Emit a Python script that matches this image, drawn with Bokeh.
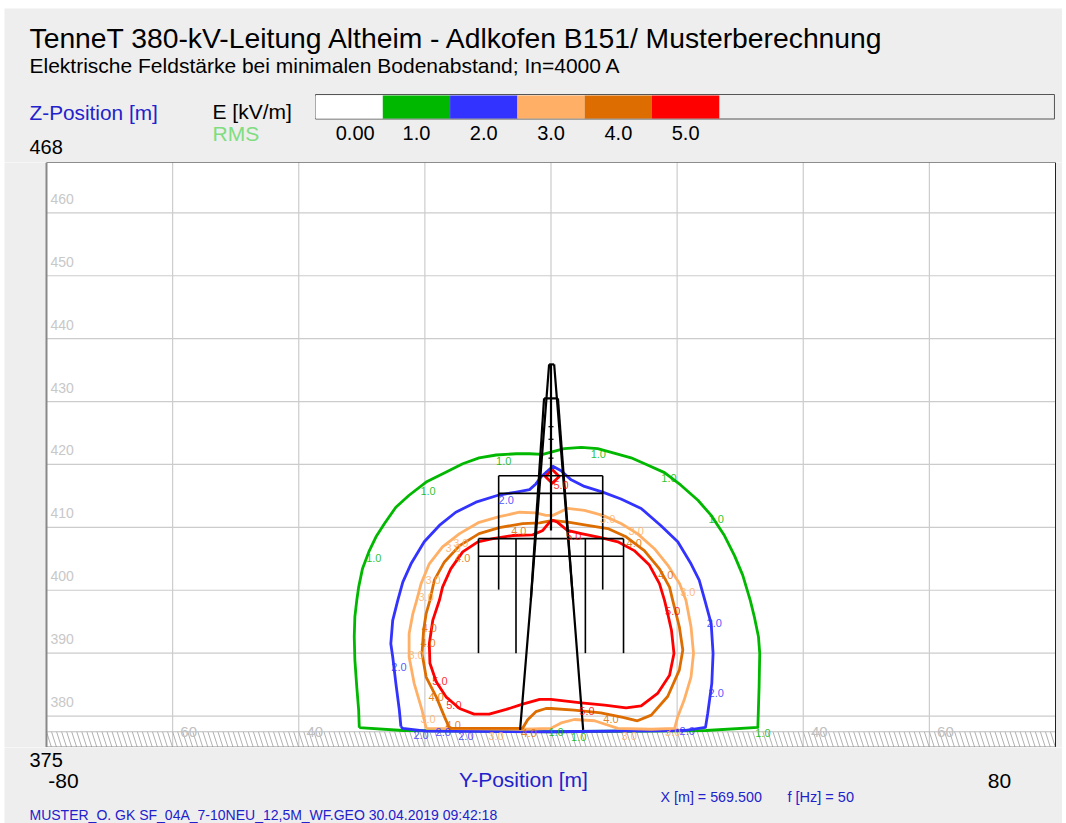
from bokeh.plotting import figure
from bokeh.layouts import column, row
from bokeh.models import Range1d, Label, Spacer
from bokeh.core.properties import value
from bokeh.embed import file_html
from bokeh.resources import INLINE
import numpy as np

TITLE = "TenneT 380-kV-Leitung Altheim - Adlkofen B151/ Musterberechnung"
SUBTITLE = "Elektrische Feldstärke bei minimalen Bodenabstand; In=4000 A"
FOOTER = "MUSTER_O. GK SF_04A_7-10NEU_12,5M_WF.GEO  30.04.2019  09:42:18"

legend_levels = [0, 1, 2, 3, 4, 5]
legend_labels = ["0.00", "1.0", "2.0", "3.0", "4.0", "5.0"]
legend_label_x = [0.59, 1.5, 2.5, 3.5, 4.5, 5.5]
legend_colors = ["#FFFFFF", "#00B800", "#3333FF", "#FFB066", "#DD6D00", "#FF0000"]

y_ticks = [-60, -40, -20, 0, 20, 40, 60]
z_ticks = [380, 390, 400, 410, 420, 430, 440, 450, 460]
y_label_ticks = [-60, -40, 40, 60]
y_label_text = ["60", "40", "40", "60"]

green_y = [-30.4, -30.5, -30.8, -31.1, -31.2, -31.1, -30.8, -30.5, -29.9, -28.8, -27.75, -26.4, -24.6, -22.5, -19.8, -16.6, -14.0, -11.4, -8.7, -5.5, -3.4, -1.3, 0.0, 2.1, 4.8, 7.4, 10.0, 12.7, 15.3, 18.0, 20.6, 23.3, 25.4, 27.5, 29.1, 30.4, 31.6, 32.25, 32.9, 33.1, 33.0, 32.8, 24.6, 0.0, -23.5, -30.4]
green_z = [378.15, 380.95, 384.65, 388.9, 392.6, 395.8, 398.4, 400.5, 403.4, 406.3, 408.5, 410.6, 413.2, 415.1, 417.2, 418.8, 420.1, 421.05, 421.5, 421.7, 421.7, 421.6, 421.95, 422.5, 422.7, 422.5, 421.8, 421.05, 419.9, 418.7, 416.7, 414.3, 411.9, 408.7, 405.5, 402.4, 398.4, 395.75, 392.6, 389.95, 384.65, 378.2, 377.7, 377.5, 377.7, 378.15]

blue_y = [-23.8, -24.05, -24.6, -25.1, -25.4, -25.1, -24.3, -23.5, -22.2, -20.1, -17.7, -15.1, -11.9, -8.4, -5.5, -3.4, -2.4, -1.6, -0.5, 0.3, 1.6, 3.2, 5.3, 8.2, 11.1, 14.3, 17.4, 20.1, 22.2, 23.5, 24.4, 25.4, 25.7, 25.5, 24.85, 24.5, 21.1, 0.0, -19.8, -23.5, -23.8]
blue_z = [378.3, 380.95, 385.2, 389.4, 391.5, 395.2, 398.4, 401.3, 404.2, 407.7, 410.3, 412.4, 414.0, 415.1, 415.6, 416.0, 416.9, 418.0, 419.0, 419.7, 419.0, 417.55, 416.5, 415.6, 414.5, 413.0, 410.3, 407.7, 404.2, 401.6, 398.4, 394.7, 389.95, 385.2, 380.4, 378.2, 377.7, 377.5, 377.6, 378.05, 378.3]

lorange_y = [-19.8, -20.45, -21.7, -22.5, -22.5, -21.9, -21.3, -20.6, -19.3, -17.2, -14.5, -11.4, -8.2, -5.0, -2.4, -0.8, 0.3, 2.6, 5.3, 8.2, 11.1, 13.7, 16.4, 18.5, 20.4, 21.4, 22.2, 22.6, 22.2, 21.1, 20.1, 19.6, 15.9, 10.6, 6.9, 3.7, 1.6, 0.0, -4.5, -19.8]
lorange_z = [378.05, 380.95, 385.2, 389.4, 393.1, 396.3, 398.4, 401.05, 404.2, 406.9, 409.0, 410.8, 411.7, 412.4, 412.3, 411.9, 411.9, 413.0, 412.7, 411.9, 410.6, 409.0, 406.6, 404.0, 401.05, 398.4, 394.2, 389.95, 386.2, 382.5, 379.9, 378.05, 377.9, 378.05, 379.25, 379.45, 378.9, 378.05, 377.9, 378.05]

dorange_y = [-5.0, -16.1, -16.9, -18.2, -19.8, -20.45, -20.2, -19.8, -19.2, -18.5, -16.9, -14.5, -11.4, -8.2, -4.5, -1.8, 0.3, 3.2, 5.8, 9.0, 11.9, 14.8, 17.2, 18.8, 19.3, 20.35, 20.9, 20.35, 18.5, 15.9, 13.7, 11.4, 7.9, 3.7, 0.0, -0.8, -2.4, -3.7, -4.5, -5.0]
dorange_z = [378.05, 378.05, 379.9, 383.05, 386.2, 389.95, 393.65, 396.3, 398.4, 401.6, 404.5, 407.1, 409.0, 409.95, 410.6, 410.7, 411.1, 410.75, 410.3, 409.8, 408.5, 406.3, 403.4, 400.5, 398.4, 394.2, 390.5, 387.3, 383.1, 380.15, 379.25, 379.8, 380.5, 380.95, 381.2, 381.2, 380.7, 379.4, 378.05, 378.05]

red_y = [-17.7, -18.75, -19.3, -19.2, -18.2, -16.65, -14.5, -12.2, -9.8, -7.1, -4.5, -1.8, 0.0, 4.8, 8.5, 11.9, 14.3, 16.9, 18.8, 19.5, 19.1, 18.5, 18.0, 17.2, 15.6, 13.2, 10.6, 7.9, 4.8, 2.6, 1.05, 0.3, -0.26, -1.3, -2.9, -6.1, -9.2, -11.6, -14.0, -15.9, -17.2, -17.7]
red_z = [398.4, 395.2, 391.5, 388.4, 385.45, 383.05, 381.2, 380.3, 380.3, 381.05, 381.9, 382.65, 382.65, 382.1, 381.75, 381.3, 381.6, 383.6, 386.5, 389.95, 393.65, 396.3, 398.4, 401.05, 404.0, 406.3, 407.7, 408.35, 409.0, 409.5, 410.8, 411.1, 410.8, 409.5, 408.8, 408.7, 408.2, 407.7, 406.1, 403.4, 400.5, 398.4]

red_small_y = [0.2, 1.3, 0.2, -0.9, 0.2]
red_small_z = [419.2, 418.1, 417.0, 418.1, 419.2]

contours = [(green_y, green_z, legend_colors[1]), (blue_y, blue_z, legend_colors[2]),
            (lorange_y, lorange_z, legend_colors[3]), (dorange_y, dorange_z, legend_colors[4]),
            (red_y, red_z, legend_colors[5]), (red_small_y, red_small_z, legend_colors[5])]

lab1_y = [-7.5, 7.5, 18.7, 26.2, -19.5, -28.1, 33.6, 4.4, 0.8]
lab1_z = [420.5, 421.6, 417.8, 411.3, 415.7, 405.1, 377.3, 376.7, 377.5]
lab2_y = [-7.1, 25.9, 26.2, -24.1, -20.6, -13.5, 21.6, -17.1]
lab2_z = [414.4, 394.8, 383.7, 387.8, 377.0, 376.8, 377.6, 377.5]
lab3_y = [9.0, 13.5, -14.3, -15.5, -18.7, -19.8, -21.4, 21.7, -19.5, -8.7, 12.4, 19.3]
lab3_z = [411.3, 409.4, 407.5, 406.7, 401.7, 398.9, 389.7, 399.7, 379.5, 376.8, 376.8, 377.5]
lab4_y = [-5.1, 13.2, -14.0, 18.2, -19.3, -19.5, -18.2, -15.5, -3.5, 9.5]
lab4_z = [409.4, 407.5, 405.2, 402.5, 394.0, 391.6, 383.0, 378.6, 377.3, 379.5]
lab5_y = [1.6, 3.6, 19.3, -17.6, -15.4, 5.7]
lab5_z = [416.7, 408.7, 396.7, 385.6, 381.7, 380.8]
contour_labels = [(lab1_y, lab1_z, "1.0", legend_colors[1]), (lab2_y, lab2_z, "2.0", legend_colors[2]),
                  (lab3_y, lab3_z, "3.0", legend_colors[3]), (lab4_y, lab4_z, "4.0", legend_colors[4]),
                  (lab5_y, lab5_z, "5.0", legend_colors[5])]

tower_paths = [
    ([-0.3, -3.2, -4.9], [435.9, 398.4, 377.8]),
    ([0.5, 3.5, 5.1], [435.9, 398.4, 377.8]),
    ([-0.3, 0.5], [435.9, 435.9]),
    ([-1.1, -3.2], [430.5, 398.4]),
    ([1.1, 3.5], [430.5, 398.4]),
    ([-1.1, 1.1], [430.5, 430.5]),
    ([0, 0], [435.9, 409.5]),
]
arm_y0 = [-8.3, -8.3, -11.5, -11.5]
arm_y1 = [8.2, 8.2, 11.5, 11.5]
arm_z = [418.2, 415.4, 408.2, 405.4]
hanger_y = [-8.3, 8.2, -11.5, -5.55, 5.45, 11.5]
hanger_top = [418.2, 418.2, 408.2, 408.2, 408.2, 408.2]
hanger_bot = [400.1, 400.1, 390.0, 390.0, 390.0, 390.0]
mast_ticks = [426.0, 424.0, 421.0]

ground_top = 377.5
Y_MIN, Y_MAX, Z_MIN, Z_MAX = -80, 80, 375, 468
FONT = "Liberation Sans"
BG = "#EEEEEE"
W = 1058          # canvas occupies x=4..1062 on the page
PX_PER_Y = 1009 / 160


def band(h, top):
    p = figure(width=W, height=h, x_range=Range1d(4, 4 + W), y_range=Range1d(top + h, top),
               x_axis_location=None, y_axis_location=None, toolbar_location=None,
               output_backend="svg", min_border=0,
               outline_line_color=None, background_fill_color=BG, border_fill_color=BG)
    p.grid.visible = False
    return p


def put(p, x, y, text, size, color="#000000", align="left"):
    p.add_layout(Label(x=x, y=y, text=text, text_font=FONT, text_font_size=f"{size}px",
                       text_color=color, text_align=align, text_baseline="middle"))


# ---- header ----
head = band(154, 8)
head.extra_x_ranges["levels"] = Range1d((4 - 315) / 67.3, (4 + W - 315) / 67.3)
put(head, 29, 37, TITLE, 28.3)
put(head, 29, 65, SUBTITLE, 21)
put(head, 29, 112, "Z-Position [m]", 20.8, "#2222CC")
put(head, 212, 111, "E [kV/m]", 21)
put(head, 212, 133, "RMS", 21, "#80DD80")
put(head, 29, 146, "468", 20)
head.quad(left=[legend_levels[0]], right=[10.98], top=[94], bottom=[118.5], fill_color=BG,
          line_color="#555555", line_width=1, x_range_name="levels")
lv = np.array(legend_levels, dtype=float)
head.quad(left=lv, right=lv + 1, top=95, bottom=118, fill_color=legend_colors,
          line_color=None, x_range_name="levels")
head.text(x=legend_label_x, y=[132] * len(lv), text=legend_labels, text_font=value(FONT),
          text_font_size="20px", text_align="center", text_baseline="middle",
          text_color="#000000", x_range_name="levels")

# ---- main plot: frame fills the canvas, the range reaches past -80..80 into the grey gutters ----
p = figure(width=W, height=585,
           x_range=Range1d(Y_MIN - 42 / PX_PER_Y, Y_MAX + 7 / PX_PER_Y), y_range=Range1d(Z_MIN, Z_MAX),
           x_axis_location=None, y_axis_location=None, toolbar_location=None,
           output_backend="svg", min_border=0, outline_line_color=None,
           background_fill_color=BG, border_fill_color=BG)
p.grid.visible = False
p.quad(left=[Y_MIN], right=[Y_MAX], bottom=[Z_MIN], top=[Z_MAX], fill_color="#FFFFFF", line_color=None)
p.segment(x0=y_ticks, y0=Z_MIN, x1=y_ticks, y1=Z_MAX, line_color="#CCCCCC", line_width=1.2)
p.segment(x0=Y_MIN, y0=z_ticks, x1=Y_MAX, y1=z_ticks, line_color="#CCCCCC", line_width=1.2)

hx = np.arange(Y_MIN, Y_MAX, 0.8)
p.segment(x0=hx, y0=ground_top, x1=hx + 0.8, y1=Z_MIN, line_color="#B0B0B0", line_width=1)
p.line([Y_MIN, Y_MAX], [ground_top, ground_top], line_color="#BBBBBB", line_width=1)

p.line([Y_MIN, Y_MAX, Y_MAX], [Z_MAX, Z_MAX, Z_MIN], line_color="#222222", line_width=1)
p.line([Y_MIN, Y_MIN, Y_MAX], [Z_MAX, Z_MIN, Z_MIN], line_color="#888888", line_width=2)

p.text(x=[Y_MIN] * len(z_ticks), y=z_ticks, text=[str(z) for z in z_ticks], x_offset=4, y_offset=-14,
       text_font=value(FONT), text_font_size="14px", text_color="#C8C8C8",
       text_align="left", text_baseline="middle")
p.text(x=y_label_ticks, y=[ground_top] * 4, text=y_label_text, x_offset=16, y_offset=0,
       text_font=value(FONT), text_font_size="15px", text_color="#C0C0C0",
       text_align="center", text_baseline="middle")

for cy, cz, col in contours:
    p.line(cy, cz, line_color=col, line_width=2.8, line_join="round")

for ty, tz in tower_paths:
    p.line(ty, tz, line_color="#000000", line_width=2.2)
p.segment(x0=arm_y0, y0=arm_z, x1=arm_y1, y1=arm_z, line_color="#000000", line_width=1.6)
p.segment(x0=hanger_y, y0=hanger_top, x1=hanger_y, y1=hanger_bot, line_color="#000000", line_width=1.6)
p.segment(x0=[-0.4] * 3, y0=mast_ticks, x1=[0.4] * 3, y1=mast_ticks, line_color="#000000", line_width=1.2)

for ly, lz, txt, col in contour_labels:
    p.text(x=ly, y=lz, text=[txt] * len(ly), text_font=value(FONT), text_font_size="11px",
           text_color=col, text_align="center", text_baseline="middle", text_alpha=0.85)

# ---- footer ----
foot = band(76, 747)
put(foot, 29, 759, "375", 20)
put(foot, 63, 780, "-80", 21, align="center")
put(foot, 999, 780, "80", 21, align="center")
put(foot, 523, 779, "Y-Position [m]", 21, "#2222CC", align="center")
put(foot, 660, 796, "X [m] = 569.500", 14.3, "#2222CC")
put(foot, 787, 796, "f [Hz] = 50", 14.5, "#2222CC")
foot.text(x=[29], y=[814], text=[FOOTER], text_font=value(FONT), text_font_size="14px",
          text_color="#2222CC", text_align="left", text_baseline="middle")

inner = column(head, p, foot, spacing=0)
page = column(Spacer(height=8), row(Spacer(width=4), inner, spacing=0), spacing=0)
open("out.html", "w").write(file_html(page, INLINE))
